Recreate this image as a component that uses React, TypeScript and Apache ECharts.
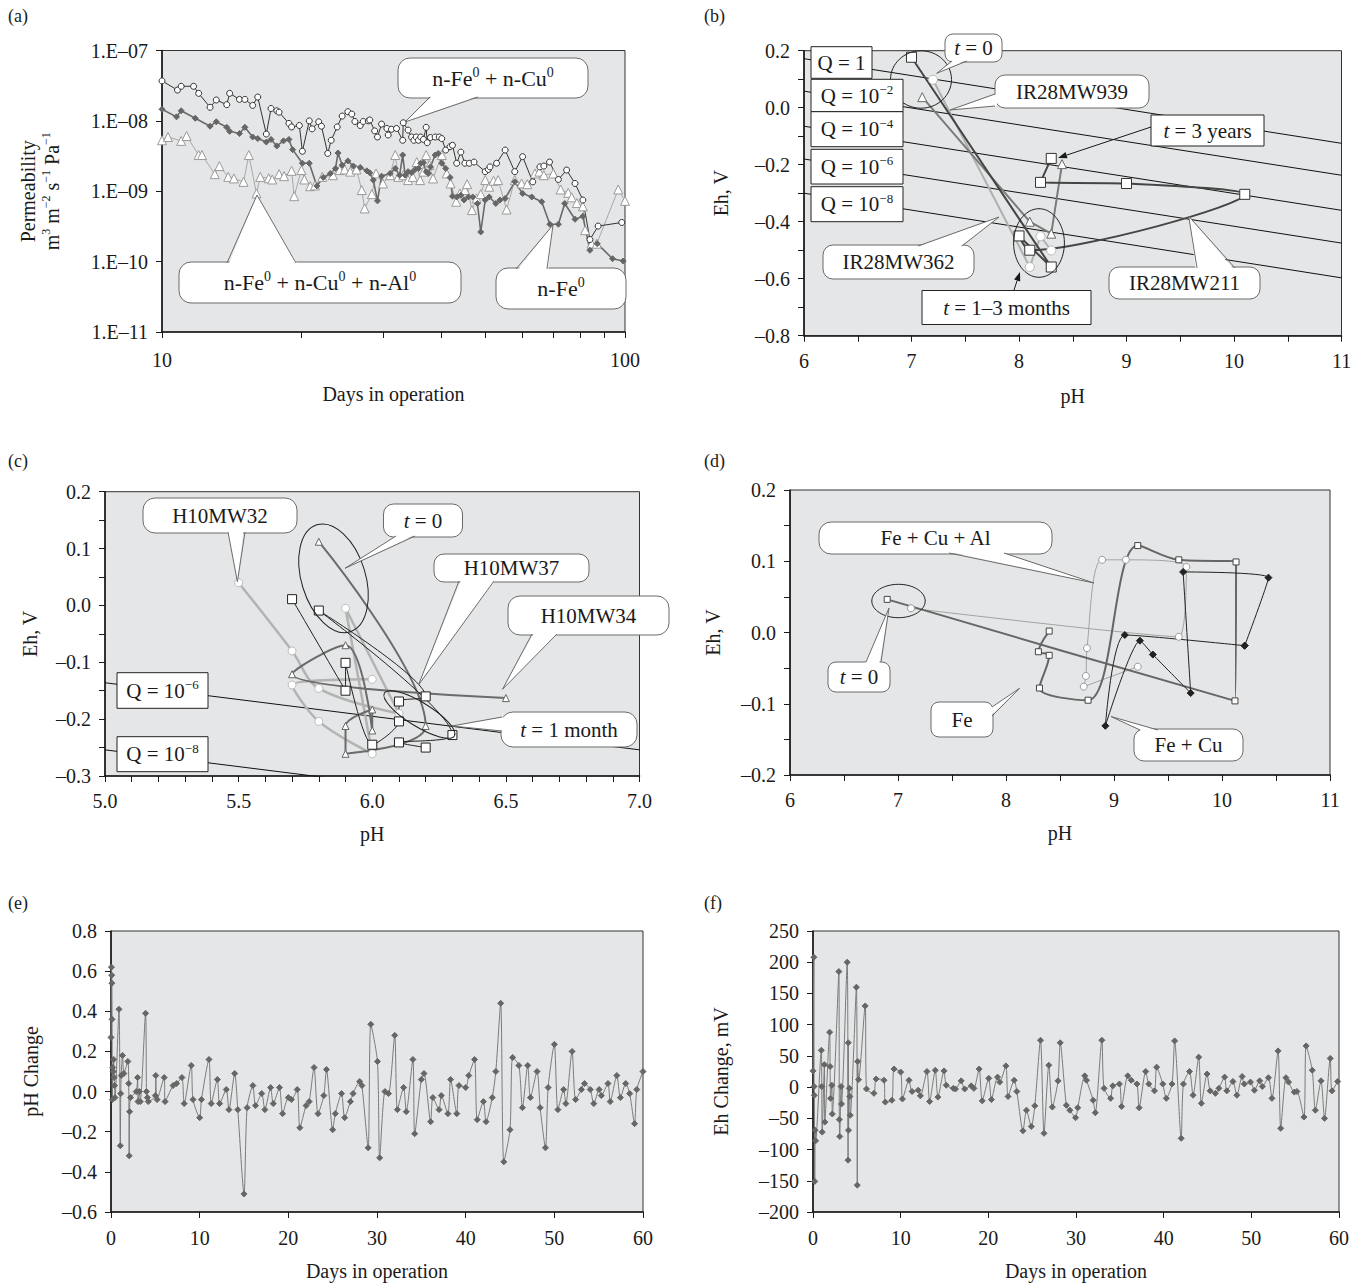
import React, { useEffect, useRef } from "react";
import * as echarts from "echarts";

const FONT = '"Liberation Serif", "DejaVu Serif", serif';
const INK = "#1a1a1a";
const PLOT_BG = "#e5e6e7";

// ---------- (a) permeability vs days (log-log) ----------
const aMinorDays = [10, 20, 30, 40, 50, 60, 70, 80, 90, 100];
const cuDays = [10.0, 10.8, 11.0, 11.7, 12.0, 12.7, 13.1, 13.8, 14.0, 14.7, 15.1, 15.7, 16.1, 16.8, 17.2, 17.7, 17.9, 18.8, 19.05, 19.8, 20.1, 20.8, 21.1, 21.8, 22.1, 22.8, 23.2, 23.9, 24.5, 25.2, 25.7, 26.1, 26.8, 27.2, 27.9, 28.1, 28.8, 29.2, 29.8, 30.6, 30.8, 31.3, 32.1, 33.1, 33.2, 34.0, 34.6, 35.0, 35.4, 35.8, 36.2, 36.7, 37.2, 37.4, 38.0, 38.9, 39.7, 40.2, 41.0, 41.9, 42.4, 43.3, 44.2, 45.1, 46.1, 47.2, 49.9, 50.7, 51.1, 52.8, 55.1, 57.8, 60.1, 63.2, 65.5, 66.8, 68.7, 71.8, 74.8, 78.0, 81.1, 84.0, 87.5, 98.4];
const cuPerm = [3.7e-8, 2.74e-8, 3.1e-8, 3.1e-8, 2.46e-8, 1.56e-8, 1.98e-8, 1.7e-8, 2.46e-8, 2.02e-8, 2.02e-8, 1.66e-8, 2.18e-8, 6.5e-9, 1.5e-8, 1.39e-8, 1.33e-8, 9.2e-9, 8.2e-9, 8.6e-9, 3.7e-9, 1.0e-8, 7.7e-9, 9.7e-9, 8.4e-9, 3.45e-9, 5.3e-9, 8.2e-9, 1.17e-8, 1.35e-8, 1.25e-8, 9.8e-9, 8.6e-9, 9.8e-9, 1.0e-8, 1.03e-8, 7.2e-9, 5.9e-9, 9.0e-9, 7.8e-9, 6.3e-9, 7.6e-9, 7.8e-9, 5.3e-9, 9.4e-9, 7.4e-9, 5.9e-9, 5.3e-9, 5.9e-9, 5.3e-9, 5.9e-9, 5.45e-9, 8.1e-9, 4.9e-9, 5.8e-9, 5.9e-9, 5.9e-9, 5.6e-9, 3.85e-9, 4.3e-9, 4.5e-9, 2.5e-9, 3.6e-9, 2.5e-9, 2.5e-9, 2.6e-9, 1.9e-9, 2.04e-9, 2.22e-9, 2.5e-9, 3.85e-9, 1.9e-9, 3.1e-9, 1.36e-9, 2.22e-9, 2.28e-9, 2.6e-9, 1.47e-9, 2.0e-9, 1.29e-9, 7.5e-10, 2.06e-10, 3.2e-10, 3.6e-10];
const feDays = [10.0, 10.75, 11.0, 11.8, 12.7, 13.1, 13.8, 14.0, 14.7, 15.1, 15.7, 16.1, 16.8, 17.2, 17.7, 18.3, 18.8, 19.15, 20.1, 20.8, 21.6, 22.3, 23.1, 23.7, 24.0, 24.5, 25.2, 25.9, 26.8, 27.7, 28.1, 28.6, 29.2, 29.8, 31.1, 31.9, 32.6, 33.1, 33.5, 34.0, 34.6, 35.2, 35.8, 36.2, 36.7, 37.2, 37.6, 38.0, 38.9, 39.5, 40.2, 41.0, 41.9, 42.4, 43.3, 44.2, 44.9, 45.9, 46.9, 48.0, 48.8, 49.9, 50.9, 52.6, 53.7, 55.1, 57.8, 60.1, 62.9, 66.1, 68.8, 71.8, 74.1, 78.0, 81.1, 84.0, 87.1, 94.0, 99.1];
const fePerm = [1.46e-8, 1.14e-8, 1.39e-8, 1.09e-8, 8.4e-9, 9.7e-9, 8.1e-9, 7.1e-9, 6.6e-9, 8.1e-9, 5.9e-9, 5.6e-9, 5.0e-9, 5.45e-9, 4.4e-9, 5.2e-9, 5.45e-9, 3.9e-9, 2.5e-9, 2.5e-9, 1.19e-9, 1.57e-9, 1.79e-9, 2.11e-9, 3.5e-9, 2.35e-9, 2.7e-9, 2.28e-9, 2.18e-9, 1.95e-9, 1.83e-9, 1.44e-9, 7.3e-10, 1.64e-9, 1.79e-9, 2.11e-9, 1.69e-9, 3.27e-9, 1.69e-9, 1.9e-9, 1.83e-9, 2.04e-9, 2.11e-9, 2.5e-9, 2.54e-9, 1.9e-9, 1.79e-9, 2.22e-9, 3.27e-9, 3.45e-9, 2.5e-9, 2.11e-9, 1.57e-9, 8.5e-10, 8.3e-10, 8.8e-10, 7.5e-10, 8.3e-10, 8.3e-10, 6.7e-10, 2.64e-10, 7.5e-10, 8.3e-10, 6.7e-10, 7.5e-10, 7.9e-10, 1.36e-9, 9.3e-10, 8.3e-10, 7.1e-10, 3.4e-10, 3.4e-10, 6.7e-10, 4.0e-10, 4.4e-10, 1.45e-10, 1.8e-10, 1.1e-10, 1.02e-10];
const alDays = [10.0, 10.3, 11.0, 11.3, 12.0, 12.2, 13.0, 13.3, 13.9, 14.3, 15.0, 15.4, 16.0, 16.3, 17.0, 17.3, 17.9, 18.35, 19.05, 19.3, 20.0, 20.3, 20.9, 21.4, 22.2, 23.4, 24.2, 24.8, 25.5, 26.3, 27.0, 27.4, 28.4, 29.0, 30.0, 31.1, 31.9, 32.4, 33.2, 34.0, 34.8, 35.5, 36.1, 36.7, 37.2, 37.8, 38.5, 40.2, 41.2, 42.0, 43.2, 44.0, 45.1, 45.6, 46.7, 47.8, 48.8, 49.9, 50.9, 52.0, 53.2, 55.5, 57.8, 59.8, 61.5, 63.9, 65.3, 66.8, 70.0, 72.6, 75.4, 76.7, 78.7, 81.1, 82.0, 84.7, 86.9, 96.7, 100];
const alPerm = [5.3e-9, 5.9e-9, 5.2e-9, 6.1e-9, 3.27e-9, 3.27e-9, 1.75e-9, 2.28e-9, 1.6e-9, 1.52e-9, 1.36e-9, 3.27e-9, 9.3e-10, 1.6e-9, 1.53e-9, 1.47e-9, 1.75e-9, 1.64e-9, 1.95e-9, 8.5e-10, 2.0e-9, 1.47e-9, 1.18e-9, 1.21e-9, 1.6e-9, 1.69e-9, 2.0e-9, 2.04e-9, 1.9e-9, 2.04e-9, 1.04e-9, 5.7e-10, 9.1e-10, 1.79e-9, 1.29e-9, 1.69e-9, 3.27e-9, 1.6e-9, 1.69e-9, 1.44e-9, 1.6e-9, 2.6e-9, 1.44e-9, 1.9e-9, 3.27e-9, 2.35e-9, 1.52e-9, 3.27e-9, 1.79e-9, 1.29e-9, 7.1e-10, 9.3e-10, 1.04e-9, 1.26e-9, 5.4e-10, 7.9e-10, 9.1e-10, 1.44e-9, 1.16e-9, 1.41e-9, 1.44e-9, 5.5e-10, 1.44e-9, 1.29e-9, 1.26e-9, 1.79e-9, 1.9e-9, 1.69e-9, 1.79e-9, 1.06e-9, 9.5e-10, 8.2e-10, 6.8e-10, 6.1e-10, 2.8e-10, 1.8e-10, 1.8e-10, 1.06e-9, 7.3e-10];

// ---------- (b) Eh vs pH, IR28 wells ----------
const qPH_b = [6, 11];
const qEh_b = [[0.172, -0.125], [0.058, -0.237], [-0.065, -0.36], [-0.18, -0.475], [-0.3, -0.597]];
const mw211 = [[7.0, 0.177], [8.3, -0.559], [8.0, -0.45], [8.1, -0.5], [10.1, -0.304], [9.0, -0.266], [8.2, -0.262], [8.3, -0.178]];
const mw939 = [[7.1, 0.037], [8.1, -0.4], [8.3, -0.442], [8.4, -0.198]];
const mw362 = [[7.2, 0.098], [8.1, -0.559], [8.2, -0.451], [8.3, -0.501]];

// ---------- (c) Eh vs pH, H10 wells ----------
const qPH_c = [5.0, 7.0];
const qEh_c = [[-0.136, -0.254], [-0.254, -0.372]];
const h10mw32 = [[5.5, 0.04], [5.7, -0.08], [5.8, -0.146], [6.1, -0.19], [5.9, -0.005], [6.0, -0.261], [5.8, -0.204], [5.7, -0.14], [6.0, -0.13]];
const h10mw37 = [[5.7, 0.011], [5.9, -0.15], [5.9, -0.101], [6.0, -0.245], [6.1, -0.204], [6.1, -0.169], [6.2, -0.16], [5.8, -0.009], [6.3, -0.228], [6.1, -0.241], [6.2, -0.25]];
const h10mw34 = [[5.8, 0.112], [6.2, -0.212], [5.9, -0.261], [5.9, -0.212], [6.0, -0.183], [6.0, -0.22], [5.9, -0.07], [5.7, -0.121], [6.5, -0.163]];

// ---------- (d) Eh vs pH, column tests ----------
const dFe = [[6.9, 0.0465], [10.12, -0.096], [10.13, 0.099], [9.6, 0.102], [9.22, 0.122], [8.76, -0.095], [8.31, -0.078], [8.4, -0.032], [8.3, -0.027], [8.4, 0.002]];
const dFeCuAl = [[7.12, 0.034], [9.6, -0.006], [9.67, 0.092], [9.11, 0.102], [8.89, 0.102], [8.75, -0.022], [8.74, -0.061], [8.72, -0.076], [9.22, -0.048]];
const dFeCu = [[10.21, -0.0185], [9.1, -0.0035], [8.92, -0.131], [9.24, -0.0115], [9.36, -0.031], [9.71, -0.085], [9.64, 0.085], [10.43, 0.077], [10.21, -0.0185]];

// ---------- (e) pH change ----------
const pHChange = [[0.0, 0.27], [0.05, 0.62], [0.08, 0.58], [0.1, 0.54], [0.12, 0.36], [0.15, -0.04], [0.2, 0.12], [0.25, 0.1], [0.3, 0.16], [0.35, 0.07], [0.4, 0.03], [0.45, -0.03], [0.9, 0.41], [1.05, -0.27], [1.1, -0.01], [1.15, 0.08], [1.3, 0.18], [1.45, 0.09], [1.9, 0.15], [2.0, 0.04], [2.05, -0.32], [2.1, -0.1], [2.2, -0.03], [2.85, 0.0], [3.0, 0.07], [3.05, -0.05], [3.2, 0.0], [3.3, -0.05], [3.9, 0.39], [4.0, 0.0], [4.1, -0.03], [4.2, -0.05], [5.0, -0.02], [5.05, 0.08], [5.2, -0.04], [6.0, 0.07], [6.1, -0.05], [7.0, 0.03], [7.4, 0.04], [8.0, 0.07], [8.25, -0.06], [9.05, 0.13], [9.25, -0.04], [10.0, -0.13], [10.2, -0.04], [11.05, 0.16], [11.3, -0.06], [12.0, 0.06], [12.25, -0.06], [13.0, 0.01], [13.3, -0.09], [13.95, 0.09], [14.3, -0.09], [15.0, -0.51], [15.35, -0.08], [16.0, 0.03], [16.3, -0.07], [17.0, -0.01], [17.35, -0.09], [18.0, 0.02], [18.3, -0.06], [19.0, 0.02], [19.35, -0.11], [20.0, -0.03], [20.35, -0.04], [21.0, 0.01], [21.3, -0.18], [22.0, -0.07], [22.35, -0.05], [22.9, 0.12], [23.35, -0.11], [24.0, -0.02], [24.3, 0.11], [25.0, -0.19], [25.3, -0.11], [26.0, -0.01], [26.35, -0.13], [27.0, -0.05], [27.3, -0.01], [28.05, 0.05], [28.3, 0.03], [29.0, -0.28], [29.3, 0.335], [30.05, 0.15], [30.3, -0.33], [30.9, 0.0], [31.3, -0.01], [32.0, 0.28], [32.3, -0.09], [33.0, 0.02], [33.3, -0.1], [34.05, 0.16], [34.25, -0.21], [35.0, 0.06], [35.3, 0.09], [36.05, -0.15], [36.3, -0.03], [37.0, -0.09], [37.25, -0.02], [38.0, -0.11], [38.3, 0.06], [39.0, -0.11], [39.25, 0.03], [40.0, 0.02], [40.35, 0.08], [41.0, 0.16], [41.3, -0.14], [42.0, -0.05], [42.3, -0.15], [43.0, -0.03], [43.4, 0.1], [43.95, 0.44], [44.3, -0.35], [45.0, -0.19], [45.3, 0.17], [46.0, 0.13], [46.4, -0.08], [47.0, 0.13], [47.3, -0.03], [48.05, 0.1], [48.4, -0.08], [49.0, -0.28], [49.3, 0.02], [50.0, 0.235], [50.4, -0.09], [51.05, 0.01], [51.3, -0.06], [52.0, 0.2], [52.4, -0.04], [53.05, 0.01], [53.4, 0.04], [54.05, 0.01], [54.45, -0.06], [55.05, 0.01], [55.3, -0.02], [56.05, 0.04], [56.3, -0.05], [57.05, 0.08], [57.45, -0.03], [58.05, 0.04], [58.5, -0.01], [59.05, -0.16], [59.3, 0.01], [60.0, 0.1]];

// ---------- (f) Eh change ----------
const ehChange = [[0.0, 26], [0.1, 208], [0.12, 1], [0.15, -13], [0.2, -151], [0.25, -69], [0.3, -86], [0.95, 59], [1.0, 1], [1.05, -72], [1.3, 36], [1.35, -56], [1.9, 88], [1.95, 33], [2.0, -18], [2.15, 3], [2.2, -43], [2.95, 185], [3.0, -52], [3.05, -79], [3.2, 1], [3.25, -27], [3.9, 200], [4.0, -117], [4.02, 71], [4.05, -69], [4.15, -2], [4.2, -15], [4.25, -45], [4.95, 160], [5.05, -157], [5.1, 41], [5.2, 12], [5.95, 130], [6.1, -3], [6.95, -10], [7.2, 13], [8.1, 11], [8.25, -24], [9.0, -21], [9.25, 29], [10.0, 24], [10.2, -19], [10.95, 11], [11.3, -7], [12.0, -5], [12.25, -14], [13.0, 25], [13.3, -23], [13.95, 27], [14.25, -16], [14.95, 26], [15.2, 3], [16.0, -2], [16.25, -3], [16.9, 10], [17.3, -3], [18.05, 2], [18.35, -2], [18.95, 29], [19.3, -22], [20.05, 14], [20.35, -20], [21.05, 16], [21.3, 8], [22.0, 34], [22.25, -15], [22.95, 11], [23.25, -7], [23.95, -70], [24.35, -37], [24.9, -63], [25.3, -30], [25.95, 75], [26.35, -74], [26.9, 35], [27.3, -32], [27.95, 10], [28.2, 71], [28.9, -29], [29.3, -37], [29.95, -49], [30.2, -33], [31.0, 18], [31.2, 11], [31.95, -21], [32.2, -41], [32.95, 75], [33.2, -2], [33.95, -18], [34.2, 2], [34.95, 5], [35.2, -31], [35.9, 18], [36.3, 11], [36.95, 5], [37.2, -33], [37.95, 25], [38.3, 5], [38.95, -6], [39.2, 32], [39.9, 5], [40.3, -18], [40.95, 5], [41.25, 74], [42.0, -82], [42.25, 5], [42.95, 25], [43.35, -13], [44.0, 48], [44.3, -26], [44.95, 21], [45.3, -6], [45.9, -10], [46.3, -2], [46.95, 16], [47.2, -6], [47.9, 9], [48.35, -13], [48.95, 17], [49.2, 5], [49.9, 8], [50.35, -5], [50.95, 10], [51.25, 1], [51.95, 15], [52.35, -18], [53.05, 58], [53.35, -66], [53.95, 15], [54.25, 8], [54.9, -8], [55.2, -7], [56.0, -48], [56.25, 66], [56.95, 27], [57.3, -37], [57.95, 10], [58.35, -50], [59.0, 46], [59.2, -6], [59.85, 9]];

type P = [number, number];
const zip = (xs: number[], ys: number[]) => xs.map((x, i) => [x, ys[i]]);

function rich(fs: number) {
  const sup = Math.round(fs * 0.62);
  return {
    n: { fontSize: fs, fontFamily: FONT, fill: INK, color: INK, lineHeight: fs + 4 },
    i: { fontSize: fs, fontFamily: FONT, fontStyle: "italic", fill: INK, color: INK, lineHeight: fs + 4 },
    s: { fontSize: sup, fontFamily: FONT, fill: INK, color: INK, verticalAlign: "top", lineHeight: sup + 2 },
  };
}

function textEl(x: number, y: number, text: string, fs: number, z = 130, align = "center") {
  return {
    type: "text", x, y, z,
    style: { text, align, verticalAlign: "middle", fontFamily: FONT, fontSize: fs, fill: INK, rich: rich(fs) },
  };
}

function callout(x: number, y: number, w: number, h: number, text: string, fs: number, tail?: [P, P, P], r = 10, stroke = "#6a6a6a") {
  const els: any[] = [];
  els.push({ type: "rect", z: 100, shape: { x, y, width: w, height: h, r }, style: { fill: "#fff", stroke, lineWidth: 1 } });
  if (tail) {
    const [b1, tip, b2] = tail;
    const cx = x + w / 2, cy = y + h / 2;
    const inward = (p: P): P => {
      const dx = cx - p[0], dy = cy - p[1];
      const d = Math.hypot(dx, dy) || 1;
      return [p[0] + (dx / d) * 2, p[1] + (dy / d) * 2];
    };
    els.push({ type: "polygon", z: 101, shape: { points: [inward(b1), tip, inward(b2)] }, style: { fill: "#fff" } });
    els.push({ type: "polyline", z: 102, shape: { points: [b1, tip, b2] }, style: { fill: "none", stroke, lineWidth: 1 } });
  }
  els.push(textEl(x + w / 2, y + h / 2, text, fs, 103));
  return els;
}

function ellipse(cx: number, cy: number, rx: number, ry: number, rotation = 0) {
  return { type: "ellipse", z: 90, x: cx, y: cy, rotation, shape: { cx: 0, cy: 0, rx, ry }, style: { fill: "none", stroke: "#222", lineWidth: 1 } };
}

function arrow(from: P, to: P) {
  const dx = to[0] - from[0], dy = to[1] - from[1];
  const d = Math.hypot(dx, dy);
  const ux = dx / d, uy = dy / d;
  const L = 9, W = 3.2;
  const base: P = [to[0] - ux * L, to[1] - uy * L];
  return [
    { type: "line", z: 104, shape: { x1: from[0], y1: from[1], x2: base[0], y2: base[1] }, style: { stroke: INK, lineWidth: 1 } },
    { type: "polygon", z: 104, shape: { points: [to, [base[0] - uy * W, base[1] + ux * W], [base[0] + uy * W, base[1] - ux * W]] }, style: { fill: INK } },
  ];
}

const fmtSigned1 = (v: number) => (v < -1e-9 ? "\u2013" : "") + Math.abs(v).toFixed(1);
const fmtSignedInt = (v: number) => (v < -1e-9 ? "\u2013" : "") + Math.round(Math.abs(v));
const fmtLogE = (v: number) => {
  const e = Math.round(Math.log10(v));
  return "1.E" + (e < 0 ? "\u2013" : "+") + String(Math.abs(e)).padStart(2, "0");
};

function axis(o: any) {
  const {
    labelMargin = 14, tickLen = 6, minor, tickCustom, formatter, ...rest
  } = o;
  return {
    nameLocation: "middle",
    nameTextStyle: { fontFamily: FONT, fontSize: 20, color: INK, rich: rich(20) },
    axisLine: { show: true, onZero: false, lineStyle: { color: INK, width: 1.6 } },
    axisTick: { show: true, inside: false, length: tickLen, lineStyle: { color: INK, width: 1 }, ...(tickCustom ? { customValues: tickCustom } : {}) },
    minorTick: minor ? { show: true, splitNumber: minor, length: tickLen, lineStyle: { color: INK, width: 1 } } : { show: false },
    axisLabel: { fontFamily: FONT, fontSize: 20, color: INK, margin: labelMargin, ...(formatter ? { formatter } : {}) },
    splitLine: { show: false },
    ...rest,
  };
}

function lineSeries(idx: number, data: any[], o: any) {
  return {
    type: "line", xAxisIndex: idx, yAxisIndex: idx, data,
    symbol: o.symbol || "none", symbolSize: o.size || 6, showSymbol: o.symbol ? true : false,
    smooth: o.smooth || false,
    lineStyle: { color: o.line, width: o.width || 1 },
    itemStyle: { color: o.fill || o.line, borderColor: o.border || o.line, borderWidth: o.bw ?? 1 },
    z: o.z ?? 3, silent: true, emphasis: { disabled: true }, clip: true,
  };
}

function buildOption() {
  const grids = [
    { left: 162, top: 50.5, width: 463, height: 281.5 },
    { left: 804, top: 50.7, width: 537.5, height: 285 },
    { left: 105, top: 491.7, width: 534.5, height: 284.3 },
    { left: 790, top: 490, width: 540, height: 285 },
    { left: 111, top: 931, width: 532, height: 281 },
    { left: 813, top: 931, width: 526, height: 281 },
  ].map((g) => ({ ...g, show: true, backgroundColor: PLOT_BG, borderColor: "#333", borderWidth: 1 }));

  const xAxis = [
    axis({ type: "log", gridIndex: 0, min: 10, max: 100, logBase: 10, name: "Days in operation", nameGap: 52, labelMargin: 18, tickCustom: aMinorDays }),
    axis({ type: "value", gridIndex: 1, min: 6, max: 11, interval: 1, minor: 2, name: "pH", nameGap: 50, labelMargin: 15 }),
    axis({ type: "value", gridIndex: 2, min: 5, max: 7, interval: 0.5, minor: 5, name: "pH", nameGap: 48, labelMargin: 15, formatter: (v: number) => v.toFixed(1) }),
    axis({ type: "value", gridIndex: 3, min: 6, max: 11, interval: 1, minor: 2, name: "pH", nameGap: 48, labelMargin: 15 }),
    axis({ type: "value", gridIndex: 4, min: 0, max: 60, interval: 10, name: "Days in operation", nameGap: 49, labelMargin: 16 }),
    axis({ type: "value", gridIndex: 5, min: 0, max: 60, interval: 10, name: "Days in operation", nameGap: 49, labelMargin: 16 }),
  ];
  const yAxis = [
    axis({
      type: "log", gridIndex: 0, min: 1e-11, max: 1e-7, logBase: 10, formatter: fmtLogE, nameRotate: 90, nameGap: 98,
      name: "{n|Permeability}\n{n|m}{s|3}{n| m}{s|\u22122}{n| s}{s|\u22121}{n| Pa}{s|\u22121}",
    }),
    axis({ type: "value", gridIndex: 1, min: -0.8, max: 0.2, interval: 0.2, minor: 2, formatter: fmtSigned1, name: "Eh, V", nameRotate: 90, nameGap: 73 }),
    axis({ type: "value", gridIndex: 2, min: -0.3, max: 0.2, interval: 0.1, minor: 2, formatter: fmtSigned1, name: "Eh, V", nameRotate: 90, nameGap: 65 }),
    axis({ type: "value", gridIndex: 3, min: -0.2, max: 0.2, interval: 0.1, minor: 2, formatter: fmtSigned1, name: "Eh, V", nameRotate: 90, nameGap: 67 }),
    axis({ type: "value", gridIndex: 4, min: -0.6, max: 0.8, interval: 0.2, formatter: fmtSigned1, name: "pH Change", nameRotate: 90, nameGap: 70 }),
    axis({ type: "value", gridIndex: 5, min: -200, max: 250, interval: 50, formatter: fmtSignedInt, name: "Eh Change, mV", nameRotate: 90, nameGap: 82 }),
  ];

  const series: any[] = [
    // (a)
    lineSeries(0, zip(alDays, alPerm), { symbol: "triangle", size: 9, line: "#a8a8a8", width: 1, fill: "#fff", border: "#9a9a9a" }),
    lineSeries(0, zip(feDays, fePerm), { symbol: "diamond", size: 6, line: "#6a6a6a", width: 1.6, fill: "#666", border: "#666" }),
    lineSeries(0, zip(cuDays, cuPerm), { symbol: "circle", size: 6, line: "#333", width: 1, fill: "#fff", border: "#333" }),
    // (b)
    ...qEh_b.map((eh) => lineSeries(1, [[qPH_b[0], eh[0]], [qPH_b[1], eh[1]]], { line: "#111", width: 1, z: 1 })),
    lineSeries(1, mw362, { symbol: "circle", size: 9, line: "#b0b0b0", width: 2, fill: "#fff", border: "#b8b8b8" }),
    lineSeries(1, mw939, { symbol: "triangle", size: 9, line: "#7a7a7a", width: 2, fill: "#fff", border: "#6a6a6a" }),
    lineSeries(1, mw211, { symbol: "rect", size: 10, line: "#454545", width: 2, fill: "#fff", border: "#333", smooth: 0.25 }),
    // (c)
    ...qEh_c.map((eh) => lineSeries(2, [[qPH_c[0], eh[0]], [qPH_c[1], eh[1]]], { line: "#111", width: 1, z: 1 })),
    lineSeries(2, h10mw32, { symbol: "circle", size: 8, line: "#b3b3b3", width: 2.5, fill: "#fff", border: "#bdbdbd", smooth: 0.35 }),
    lineSeries(2, h10mw34, { symbol: "triangle", size: 7, line: "#6b6b6b", width: 2, fill: "#fff", border: "#666", smooth: 0.35 }),
    lineSeries(2, h10mw37, { symbol: "rect", size: 9, line: "#222", width: 1, fill: "#fff", border: "#222", smooth: 0.25 }),
    // (d)
    lineSeries(3, dFeCuAl, { symbol: "circle", size: 7, line: "#a3a3a3", width: 1, fill: "#fff", border: "#9a9a9a", smooth: 0.35 }),
    lineSeries(3, dFe, { symbol: "rect", size: 6, line: "#666", width: 2, fill: "#fff", border: "#444", smooth: 0.35 }),
    lineSeries(3, dFeCu, { symbol: "diamond", size: 7, line: "#222", width: 1, fill: "#222", border: "#222", smooth: 0.2 }),
    // (e), (f)
    lineSeries(4, pHChange, { symbol: "diamond", size: 6, line: "#7a7a7a", width: 1, fill: "#666", border: "#666", smooth: 0.25 }),
    lineSeries(5, ehChange, { symbol: "diamond", size: 6, line: "#7a7a7a", width: 1, fill: "#666", border: "#666", smooth: 0.25 }),
  ];

  const g: any[] = [];
  // panel letters
  ([["(a)", 8, 16], ["(b)", 704, 16], ["(c)", 8, 461], ["(d)", 704, 461], ["(e)", 8, 903], ["(f)", 704, 903]] as any[]).forEach(([t, x, y]) =>
    g.push({ type: "text", x, y, z: 130, style: { text: t, align: "left", verticalAlign: "middle", fontFamily: FONT, fontSize: 18, fill: INK } })
  );

  // (a) callouts
  g.push(...callout(398, 58, 190, 40, "{n|n-Fe}{s|0}{n| + n-Cu}{s|0}", 22, [[430, 97], [405, 122], [478, 97]], 12));
  g.push(...callout(179, 262, 282, 41, "{n|n-Fe}{s|0}{n| + n-Cu}{s|0}{n| + n-Al}{s|0}", 22, [[227, 263], [257, 195], [296, 263]], 12));
  g.push(...callout(496, 268, 130, 41, "{n|n-Fe}{s|0}", 22, [[516, 269], [553, 225], [547, 269]], 12));

  // (b) Q boxes
  const qb: [number, number, number, string][] = [
    [46.7, 61, 31.6, "{n|Q = 1}"],
    [79.3, 92, 32.4, "{n|Q = 10}{s|\u22122}"],
    [111.7, 92, 35, "{n|Q = 10}{s|\u22124}"],
    [149.3, 92, 34.7, "{n|Q = 10}{s|\u22126}"],
    [186.7, 92, 35, "{n|Q = 10}{s|\u22128}"],
  ];
  qb.forEach(([y, w, h, t]) => g.push(...callout(811, y, w, h, t, 21, undefined, 0, "#222")));
  g.push(ellipse(921, 79.5, 30.5, 28.7));
  g.push(...callout(945, 34, 57, 28, "{i|t}{n| = 0}", 21, [[952, 61], [936.7, 73.3], [967, 61]], 8));
  g.push(...callout(995, 75, 154, 33, "{n|IR28MW939}", 21, [[995, 94], [950, 110], [995, 106]], 10));
  g.push(...callout(1151, 115, 113, 31, "{i|t}{n| = 3 years}", 21, undefined, 0, "#222"));
  g.push(...arrow([1151, 127], [1058, 158]));
  g.push(...callout(1109, 267, 151, 32, "{n|IR28MW211}", 21, [[1197, 268], [1188.7, 216.3], [1235, 268]], 10));
  g.push(...callout(823, 245, 151, 34, "{n|IR28MW362}", 21, [[918, 246], [999, 217], [962, 246]], 10));
  g.push(ellipse(1039, 243, 25.4, 34.3));
  g.push(...callout(922, 290.5, 169, 34, "{i|t}{n| = 1\u20133 months}", 21, undefined, 0, "#222"));
  g.push(...arrow([1014, 290], [1020, 272]));

  // (c)
  g.push(...callout(117, 672.7, 91, 35.6, "{n|Q = 10}{s|\u22126}", 21, undefined, 0, "#222"));
  g.push(...callout(117, 736.7, 91, 35, "{n|Q = 10}{s|\u22128}", 21, undefined, 0, "#222"));
  g.push(ellipse(333.5, 578.3, 32, 56, 0.3));
  g.push(ellipse(419.4, 714.5, 41, 12, -0.55));
  g.push(...callout(143, 498, 154, 35, "{n|H10MW32}", 21, [[228, 532], [237.4, 581.7], [245, 532]], 12));
  g.push(...callout(383.5, 504, 79, 33, "{i|t}{n| = 0}", 21, [[396, 536], [345, 568.3], [415, 536]], 10));
  g.push(...callout(434, 554, 155, 28, "{n|H10MW37}", 21, [[459, 581], [418.5, 685], [494, 581]], 10));
  g.push(...callout(508, 596, 161, 39, "{n|H10MW34}", 21, [[532, 634], [502.5, 689.3], [557, 634]], 12));
  g.push(...callout(501, 712, 136, 35, "{i|t}{n| = 1 month}", 21, [[502, 717], [452, 726], [502, 731]], 12));

  // (d)
  g.push(ellipse(898.5, 601, 26.7, 16.7));
  g.push(...callout(819, 522, 233, 32, "{n|Fe + Cu + Al}", 21, [[949, 553], [1094, 583], [1004, 553]], 12));
  g.push(...callout(828, 662, 62, 30, "{i|t}{n| = 0}", 21, [[866, 662], [889, 608], [881, 662]], 8));
  g.push(...callout(931, 702, 62, 35, "{n|Fe}", 21, [[992, 707], [1019.6, 688.3], [992, 716]], 8));
  g.push(...callout(1134, 729, 109, 32, "{n|Fe + Cu}", 21, [[1140, 730], [1111, 716.5], [1158, 730]], 10));

  return {
    animation: false,
    backgroundColor: "#fff",
    textStyle: { fontFamily: FONT },
    grid: grids,
    xAxis,
    yAxis,
    series,
    graphic: { elements: g },
  };
}

export default function App() {
  const ref = useRef<HTMLDivElement>(null);
  useEffect(() => {
    const chart = echarts.init(ref.current!, null, { renderer: "svg" });
    chart.setOption(buildOption() as any);
    return () => chart.dispose();
  }, []);
  return <div ref={ref} style={{ position: "absolute", left: 0, top: 0, width: 1362, height: 1287, background: "#fff" }} />;
}
